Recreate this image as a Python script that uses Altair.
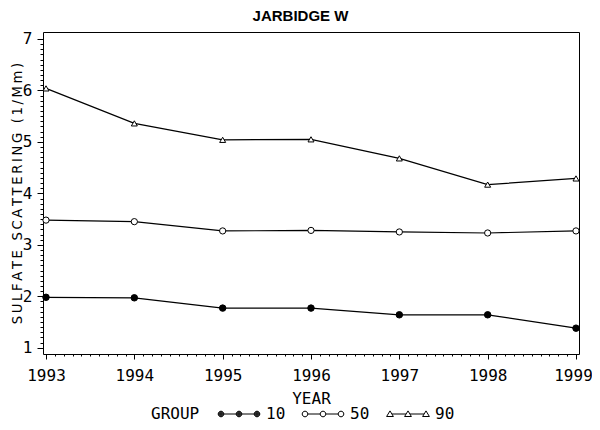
import altair as alt
import pandas as pd

# ---- data ----
years = [1993, 1994, 1995, 1996, 1997, 1998, 1999]
groups = ["10", "50", "90"]
p10 = [1.98, 1.97, 1.77, 1.77, 1.64, 1.64, 1.38]
p50 = [3.48, 3.45, 3.27, 3.28, 3.25, 3.23, 3.27]
p90 = [6.04, 5.36, 5.04, 5.05, 4.68, 4.17, 4.29]

title_text = "JARBIDGE W"
y_title = "SULFATE SCATTERING (1/Mm)"
x_title = "YEAR"
legend_title = "GROUP"

rows = []
for g, vals in zip(groups, [p10, p50, p90]):
    for yr, v in zip(years, vals):
        rows.append({"year": yr, "value": v, "group": g})
df = pd.DataFrame(rows)

MONO = "DejaVu Sans Mono"


def spaced(s):
    # letter-spaced look of the original plotting font
    return "\u2009 \u2009".join("\u2009".join(w) for w in s.split(" "))


# tick positions (major at integers, minor every 0.1)
x_ticks = [round(1993 + 0.1 * i, 1) for i in range(61)]
y_ticks = [round(1 + 0.1 * i, 1) for i in range(61)]
is_major = "abs(datum.value - round(datum.value)) < 0.01"

x_enc = alt.X(
    "year:Q",
    scale=alt.Scale(domain=[1992.966, 1999.034], nice=False, zero=False),
    axis=alt.Axis(
        values=x_ticks,
        title=x_title,
        grid=False,
        domain=False,
        tickColor="black",
        tickWidth=1,
        tickSize={"condition": {"test": is_major, "value": 5}, "value": 2},
        labelExpr=f"{is_major} ? format(datum.value, 'd') : ''",
        labelFont=MONO,
        labelFontSize=16,
        labelColor="black",
        labelPadding=8,
        labelOffset={"condition": {"test": "datum.value > 1998.5", "value": -3}, "value": 0},
        labelOverlap=False,
        labelFlush=False,
        labelBound=False,
        titleFont=MONO,
        titleFontSize=16,
        titleFontWeight="normal",
        titleColor="black",
        titleX=268,
        titleY=49,
        titleAlign="center",
        titleBaseline="alphabetic",
    ),
)

y_enc = alt.Y(
    "value:Q",
    scale=alt.Scale(domain=[0.878, 7.136], nice=False, zero=False),
    axis=alt.Axis(
        values=y_ticks,
        title=spaced(y_title),
        grid=False,
        domain=False,
        tickColor="black",
        tickWidth=1,
        tickSize={"condition": {"test": is_major, "value": 6}, "value": 3},
        labelExpr=f"{is_major} ? format(datum.value, 'd') : ''",
        labelFont=MONO,
        labelFontSize=16,
        labelColor="black",
        labelPadding=5,
        labelOverlap=False,
        labelBound=False,
        labelFlush=False,
        titleFont="DejaVu Sans",
        titleFontSize=13.2,
        titleFontWeight="normal",
        titleColor="black",
        titleAngle=270,
        titleX=-26,
        titleY=161,
        titleAlign="center",
        titleBaseline="middle",
    ),
)

base = alt.Chart(df)

lines = base.mark_line(color="black", strokeWidth=1.2).encode(
    x=x_enc, y=y_enc, detail="group:N"
)

points = base.mark_point(
    filled=True, stroke="black", strokeWidth=1, opacity=1
).encode(
    x=x_enc,
    y=y_enc,
    shape=alt.Shape(
        "group:N",
        scale=alt.Scale(domain=groups, range=["circle", "circle", "triangle-up"]),
        legend=None,
    ),
    fill=alt.Fill(
        "group:N",
        scale=alt.Scale(domain=groups, range=["black", "white", "white"]),
        legend=None,
    ),
    size=alt.Size(
        "group:N",
        scale=alt.Scale(domain=groups, range=[42, 36, 64]),
        legend=None,
    ),
)


# legend symbols: three markers joined by a line (units of 5 px, centre 8 px)
def circle_sym(cx, r):
    return f"M{cx - r},0A{r},{r} 0 1,0 {cx + r},0A{r},{r} 0 1,0 {cx - r},0Z"


def tri_sym(cx, w, top, bot):
    return f"M{cx},{-top}L{cx + w},{bot}L{cx - w},{bot}Z"


centres = [-1.0, 2.6, 6.2]
rc = 0.56
links_c = "".join(
    f"M{centres[i] + rc},0L{centres[i + 1] - rc},0" for i in range(2)
)
open_path = "".join(circle_sym(c, rc) for c in centres) + links_c
# solid dot drawn with concentric strokes
dot_path = "".join(
    circle_sym(c, r) for c in centres for r in (rc, 0.42, 0.28, 0.14)
) + links_c
tri_path = "".join(tri_sym(c, 0.68, 0.62, 0.5) for c in centres) + "".join(
    f"M{centres[i] + 0.4},0L{centres[i + 1] - 0.4},0" for i in range(2)
)

legend_layer = base.transform_filter("false").mark_point(
    filled=False, color="black", strokeWidth=1, opacity=1
).encode(
    x=x_enc,
    y=y_enc,
    shape=alt.Shape(
        "group:N",
        scale=alt.Scale(domain=groups, range=[dot_path, open_path, tri_path]),
        title=legend_title,
        legend=alt.Legend(
            orient="none",
            legendX=108,
            legendY=374,
            direction="horizontal",
            titleOrient="left",
            titleFont=MONO,
            titleFontSize=16,
            titleFontWeight="normal",
            titleColor="black",
            titlePadding=18,
            labelFont=MONO,
            labelFontSize=16,
            labelColor="black",
            labelOffset=32,
            symbolSize=100,
            symbolStrokeWidth=1,
            symbolStrokeColor="black",
            symbolFillColor="transparent",
            columnPadding=14,
            padding=0,
        ),
    ),
)

chart = (
    alt.layer(lines, points, legend_layer)
    .resolve_scale(shape="independent", fill="independent", size="independent")
    .properties(
        width=536,
        height=322,
        title=alt.TitleParams(
            title_text,
            font="Liberation Sans",
            fontSize=15,
            fontWeight="bold",
            color="black",
            anchor="middle",
            dx=-10.5,
            offset=6.8,
        ),
        autosize=alt.AutoSizeParams(type="none"),
        padding={"left": 35, "top": 24, "right": 13, "bottom": 68},
        background="white",
    )
    .configure_view(stroke="black", strokeWidth=1)
)

chart.save("out.html", embed_options={"renderer": "svg", "actions": False})
